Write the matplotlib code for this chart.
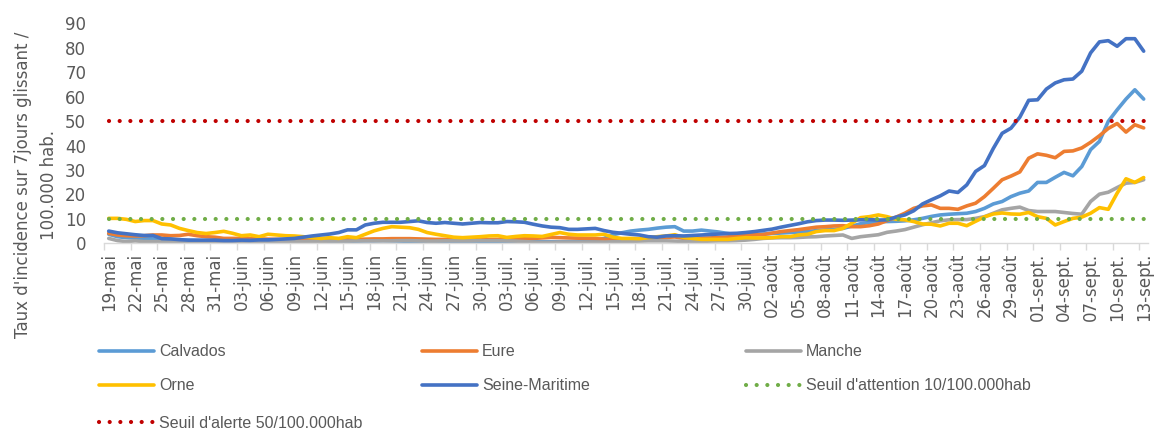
import matplotlib
matplotlib.use("Agg")
import matplotlib.pyplot as plt
import numpy as np
import pandas as pd

plt.rcParams["font.family"] = ["DejaVu Sans"]

# ---------------- data ----------------
start_date = "2020-05-19"
end_date = "2020-09-13"
month_fr = {5: "mai", 6: "juin", 7: "juil.", 8: "août", 9: "sept."}

calvados = [3.7, 2.7, 2.3, 2.2, 2.0, 1.8, 1.6, 1.5, 1.3, 1.2,
            1.1, 1.0, 1.0, 0.9, 0.8, 0.8, 0.8, 0.9, 1.0, 1.0,
            1.0, 0.8, 0.6, 0.4, 0.4, 0.5, 0.6, 0.8, 0.9, 1.0,
            1.0, 1.1, 1.0, 0.9, 0.8, 0.8, 0.7, 0.7, 0.8, 0.8,
            0.7, 0.6, 0.6, 0.7, 0.8, 0.8, 0.8, 0.7, 0.7, 0.6,
            0.6, 0.6, 0.7, 0.8, 0.9, 1.2, 2.0, 3.5, 4.3, 5.0,
            5.4, 5.7, 6.2, 6.6, 6.8, 5.0, 5.0, 5.4, 5.0, 4.6,
            4.0, 3.4, 3.4, 3.6, 3.8, 4.0, 4.2, 4.4, 4.6, 4.8,
            5.2, 5.5, 5.7, 6.1, 7.0, 8.0, 8.5, 8.8, 8.9, 9.0,
            9.2, 9.6, 10.2, 11.0, 11.6, 11.9, 12.1, 12.3, 13.0, 14.3,
            16.1, 17.1, 19.1, 20.5, 21.4, 24.9, 24.9, 27.0, 29.0, 27.6,
            31.4, 38.3, 41.7, 49.9, 54.6, 59.0, 62.8, 59.0]

eure = [4.1, 3.4, 3.1, 3.0, 3.1, 3.4, 3.4, 3.1, 3.2, 3.7,
        3.1, 2.7, 2.5, 2.0, 2.0, 2.0, 1.9, 1.8, 1.7, 1.6,
        1.5, 1.4, 1.4, 1.3, 1.4, 1.5, 1.5, 1.6, 1.6, 1.7,
        1.8, 1.8, 1.9, 1.9, 1.9, 1.8, 1.7, 1.6, 1.6, 1.5,
        1.5, 1.5, 1.4, 1.5, 1.6, 1.7, 1.8, 1.9, 2.0, 2.2,
        2.4, 2.3, 2.2, 2.1, 2.0, 1.9, 1.7, 1.4, 1.3, 1.6,
        1.9, 2.1, 2.2, 2.4, 2.6, 2.0, 2.0, 2.1, 2.2, 2.4,
        2.6, 3.0, 3.3, 3.5, 3.6, 4.2, 4.8, 5.2, 5.6, 6.1,
        6.6, 6.8, 7.1, 7.2, 6.8, 6.8, 7.2, 7.9, 9.3, 10.7,
        12.3, 14.3, 15.3, 15.7, 14.3, 14.3, 13.9, 15.3, 16.4, 19.1,
        22.5, 26.0, 27.5, 29.2, 34.8, 36.6, 36.0, 35.0, 37.6, 37.8,
        39.0, 41.3, 44.0, 47.0, 49.0, 45.5, 48.5, 47.2]

manche = [2.0, 1.1, 0.7, 1.0, 0.7, 0.7, 0.6, 0.5, 0.5, 0.5,
          0.5, 0.5, 0.5, 0.4, 0.4, 0.5, 0.5, 0.6, 0.6, 0.6,
          0.7, 0.7, 0.7, 0.8, 0.8, 0.9, 0.9, 0.9, 1.0, 1.0,
          1.0, 1.0, 1.0, 1.1, 1.1, 1.0, 0.9, 0.9, 1.0, 1.0,
          1.0, 1.0, 1.1, 1.1, 1.1, 1.0, 0.9, 0.7, 0.5, 0.4,
          0.4, 0.5, 0.5, 0.5, 0.5, 0.5, 0.5, 0.6, 0.6, 0.8,
          0.9, 1.0, 1.0, 1.0, 0.9, 0.8, 0.8, 0.8, 0.9, 1.0,
          1.0, 1.1, 1.3, 1.6, 2.0, 2.2, 2.3, 2.3, 2.4, 2.6,
          2.7, 3.0, 3.2, 3.4, 2.0, 2.7, 3.1, 3.5, 4.5, 5.0,
          5.6, 6.6, 7.6, 8.4, 9.2, 9.6, 9.7, 9.7, 10.2, 10.9,
          12.3, 13.7, 14.3, 14.8, 13.4, 13.0, 13.0, 13.0, 12.6, 12.2,
          11.9, 17.1, 20.1, 20.9, 22.8, 24.6, 24.9, 26.0]

orne = [10.2, 10.2, 9.8, 8.9, 9.3, 9.3, 7.9, 7.5, 6.1, 5.2,
        4.4, 4.0, 4.4, 4.9, 4.1, 3.1, 3.4, 2.7, 3.7, 3.4,
        3.1, 3.0, 2.7, 2.3, 2.0, 2.3, 2.0, 2.7, 2.3, 3.7,
        5.1, 6.1, 6.8, 6.6, 6.4, 5.7, 4.4, 3.7, 3.1, 2.5,
        2.3, 2.5, 2.7, 3.0, 3.1, 2.4, 2.8, 3.1, 3.0, 2.8,
        3.6, 4.4, 3.7, 3.4, 3.4, 3.4, 3.7, 2.5, 2.0, 2.0,
        1.9, 2.3, 2.7, 3.0, 3.5, 2.4, 2.0, 1.6, 1.6, 1.6,
        1.6, 2.0, 2.3, 2.2, 2.2, 2.3, 2.7, 2.7, 3.4, 3.7,
        4.8, 5.2, 5.2, 6.1, 8.2, 10.5, 10.9, 11.6, 10.9, 9.8,
        9.6, 8.9, 7.9, 7.8, 7.1, 8.2, 8.2, 7.2, 9.0, 10.8,
        12.0, 12.4, 12.0, 11.9, 12.6, 10.9, 10.2, 7.5, 8.9, 10.2,
        10.7, 12.3, 14.6, 13.9, 20.5, 26.4, 24.9, 26.9]

seine_maritime = [5.0, 4.3, 3.9, 3.5, 3.2, 3.2, 1.9, 1.8, 1.5, 1.3,
                  1.3, 1.3, 1.3, 1.1, 1.1, 1.3, 1.2, 1.4, 1.4, 1.6,
                  1.8, 2.0, 2.5, 3.0, 3.4, 3.8, 4.4, 5.5, 5.5, 7.5,
                  8.2, 8.6, 8.6, 8.6, 8.9, 9.2, 8.5, 8.2, 8.5, 8.2,
                  7.9, 8.2, 8.5, 8.4, 8.4, 8.9, 8.8, 8.6, 7.8, 7.1,
                  6.6, 6.4, 5.7, 5.7, 5.9, 6.1, 5.2, 4.5, 4.1, 3.7,
                  3.4, 2.7, 2.5, 3.0, 3.1, 3.0, 3.2, 3.4, 3.6, 3.8,
                  4.0, 4.1, 4.4, 4.8, 5.3, 5.8, 6.6, 7.3, 8.0, 8.8,
                  9.3, 9.5, 9.5, 9.4, 9.5, 9.6, 9.7, 9.5, 9.6, 10.7,
                  11.6, 13.3, 16.1, 17.8, 19.4, 21.4, 20.8, 23.9, 29.4, 31.8,
                  38.8, 45.0, 47.1, 51.6, 58.5, 58.7, 63.1, 65.6, 66.9, 67.2,
                  70.4, 77.9, 82.4, 82.9, 80.6, 83.7, 83.7, 78.6]

seuil_attention = 10
seuil_alerte = 50

series_names = ["Calvados", "Eure", "Manche", "Orne", "Seine-Maritime"]
series_colors = ["#5B9BD5", "#ED7D31", "#A5A5A5", "#FFC000", "#4472C4"]
label_attention = "Seuil d'attention 10/100.000hab"
label_alerte = "Seuil d'alerte 50/100.000hab"
y_title = "Taux d'incidence sur 7jours glissant /\n100.000 hab."

# ---------------- figure ----------------
W, H = 1155, 432
fig = plt.figure(figsize=(W / 100, H / 100), dpi=100)
ax_left, ax_right = 104.3 / W, 1148.1 / W
ax_bottom, ax_top = 1 - 243.3 / H, 1 - 23.3 / H
ax = fig.add_axes([ax_left, ax_bottom, ax_right - ax_left, ax_top - ax_bottom])

dates = pd.date_range(start_date, end_date, freq="D")
n = len(dates)
x = np.arange(n)
tick_labels = [f"{d.day:02d}-{month_fr[d.month]}" for d in dates]

all_series = [calvados, eure, manche, orne, seine_maritime]
handles = []
for vals, name, col in zip(all_series, series_names, series_colors):
    h, = ax.plot(x, vals, color=col, lw=2.6, label=name,
                 solid_joinstyle="round", solid_capstyle="round")
    handles.append(h)

h_att, = ax.plot(x, np.full(n, seuil_attention), color="#70AD47", lw=3.0,
                 linestyle=(0, (0.01, 2.55)), dash_capstyle="round",
                 label=label_attention)
h_al, = ax.plot(x, np.full(n, seuil_alerte), color="#C00000", lw=3.0,
                linestyle=(0, (0.01, 2.55)), dash_capstyle="round",
                label=label_alerte)

ax.set_xlim(-0.5, n - 0.5)
ax.set_ylim(0, 90)
ax.set_yticks(np.arange(0, 91, 10))
ax.tick_params(axis="y", length=0, pad=13, labelsize=12, labelcolor="#595959")

major = np.arange(0, n, 3)
ax.set_xticks(major)
ax.set_xticklabels([tick_labels[i] for i in major], rotation=90)
ax.set_xticks(major - 0.5, minor=True)
ax.tick_params(axis="x", which="major", length=0, pad=7, labelsize=12,
               labelcolor="#595959")
ax.tick_params(axis="x", which="minor", length=5, width=1, color="#D9D9D9")

for s in ["top", "right", "left"]:
    ax.spines[s].set_visible(False)
ax.spines["bottom"].set_color("#D9D9D9")
ax.spines["bottom"].set_linewidth(1)

fig.text(36 / W, 1 - 185 / H, y_title, rotation=90, ha="center", va="center",
         fontsize=12, color="#595959", linespacing=1.5, multialignment="center")

# ---------------- legend (Excel style grid, one entry per slot) ----------------
leg_font = {"size": 11.5, "family": ["Liberation Sans Narrow", "Liberation Sans", "DejaVu Sans"]}
col_x = [99, 422, 746]
row_y = [352, 386, 423]
slots = [
    (handles[0], 0, 0), (handles[1], 1, 0), (handles[2], 2, 0),
    (handles[3], 0, 1), (handles[4], 1, 1), (h_att, 2, 1),
    (h_al, 0, 2),
]
for h, c, r in slots:
    fig.legend(handles=[h], labels=[h.get_label()],
               loc="center left", bbox_to_anchor=(col_x[c] / W, 1 - row_y[r] / H),
               frameon=False, borderpad=0, borderaxespad=0,
               handlelength=3.45, handletextpad=0.3,
               prop=leg_font, labelcolor="#595959")

fig.savefig("out.png", dpi=100)
